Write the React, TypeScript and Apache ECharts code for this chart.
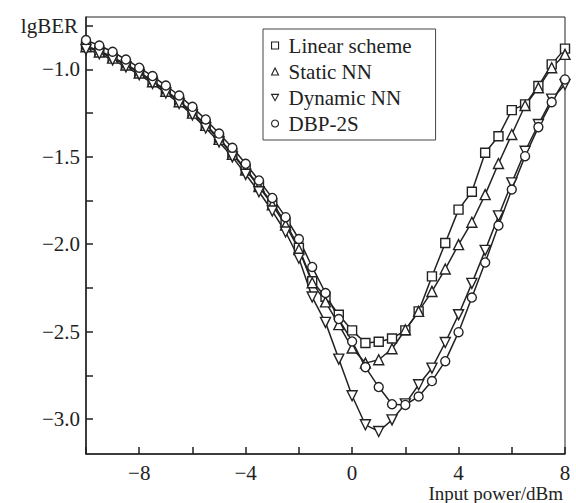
import { useEffect, useRef } from 'react';
import * as echarts from 'echarts';

const xValues = [
  -10, -9.5, -9, -8.5, -8, -7.5, -7, -6.5, -6, -5.5, -5, -4.5, -4, -3.5, -3, -2.5, -2, -1.5, -1,
  -0.5, 0, 0.5, 1, 1.5, 2, 2.5, 3, 3.5, 4, 4.5, 5, 5.5, 6, 6.5, 7, 7.5, 8,
];

const linearScheme = [
  -0.866, -0.893, -0.93, -0.97, -1.015, -1.065, -1.12, -1.18, -1.245, -1.315, -1.395, -1.48, -1.57,
  -1.665, -1.765, -1.875, -2.02, -2.212, -2.3, -2.403, -2.493, -2.565, -2.558, -2.539, -2.493, -2.384,
  -2.184, -1.993, -1.802, -1.7, -1.477, -1.382, -1.233, -1.2, -1.095, -0.971, -0.881,
];

const staticNN = [
  -0.87, -0.9, -0.935, -0.975, -1.02, -1.07, -1.125, -1.185, -1.25, -1.32, -1.4, -1.485, -1.575,
  -1.67, -1.775, -1.89, -2.03, -2.22, -2.33, -2.46, -2.594, -2.68, -2.661, -2.598, -2.489, -2.384,
  -2.27, -2.142, -2.002, -1.874, -1.716, -1.538, -1.372, -1.206, -1.105, -0.99, -0.914,
];

const dynamicNN = [
  -0.885, -0.91, -0.945, -0.985, -1.03, -1.08, -1.135, -1.195, -1.26, -1.335, -1.415, -1.5, -1.6,
  -1.7, -1.81, -1.93, -2.08, -2.302, -2.447, -2.657, -2.867, -3.033, -3.071, -3.005, -2.913, -2.804,
  -2.709, -2.562, -2.403, -2.224, -2.035, -1.838, -1.649, -1.468, -1.315, -1.17, -1.086,
];

const dbp2s = [
  -0.832, -0.863, -0.899, -0.943, -0.99, -1.038, -1.092, -1.149, -1.214, -1.286, -1.367, -1.448,
  -1.54, -1.635, -1.735, -1.845, -1.97, -2.13, -2.279, -2.428, -2.556, -2.703, -2.817, -2.915, -2.919,
  -2.871, -2.783, -2.669, -2.503, -2.305, -2.104, -1.893, -1.687, -1.496, -1.33, -1.187, -1.057,
];

const yTickValues = [-3, -2.75, -2.5, -2.25, -2, -1.75, -1.5, -1.25, -1, -0.75];
const yLabelValues = [-3, -2.5, -2, -1.5, -1];
const xLabelValues = [-8, -4, 0, 4, 8];

const FONT = '"Liberation Serif", "Times New Roman", serif';
const INK = '#222';
const DOWN_TRIANGLE = 'path://M0,0 L10,0 L5,9 Z';

const minus = (s: string) => s.replace('-', '\u2212');

export default function App() {
  const ref = useRef<HTMLDivElement>(null);

  useEffect(() => {
    document.body.style.margin = '0';
    if (!ref.current) return;
    const chart = echarts.init(ref.current, undefined, { renderer: 'svg' });

    const seriesDefs = [
      { name: 'Linear scheme', data: linearScheme, symbol: 'rect', size: 9 },
      { name: 'Static NN', data: staticNN, symbol: 'triangle', size: 10 },
      { name: 'Dynamic NN', data: dynamicNN, symbol: DOWN_TRIANGLE, size: 10 },
      { name: 'DBP-2S', data: dbp2s, symbol: 'circle', size: 9 },
    ];

    chart.setOption({
      animation: false,
      backgroundColor: '#fff',
      grid: {
        left: 86,
        top: 17,
        right: 11,
        bottom: 49,
        show: true,
        borderColor: INK,
        borderWidth: 1,
        containLabel: false,
      },
      legend: {
        orient: 'vertical',
        left: 263,
        top: 29,
        itemWidth: 7,
        itemHeight: 7,
        itemGap: 5,
        padding: [6, 24, 6, 8],
        borderColor: '#444',
        borderWidth: 1,
        textStyle: {
          fontFamily: FONT,
          fontSize: 21,
          color: INK,
          lineHeight: 20,
          padding: [0, 0, 0, 5],
        },
        data: seriesDefs.map((s) => ({
          name: s.name,
          icon: s.symbol,
          itemStyle: { color: '#fff', borderColor: INK, borderWidth: 1.1 },
        })),
      },
      xAxis: {
        type: 'value',
        min: -10,
        max: 8,
        interval: 2,
        axisLine: { show: true, onZero: false, lineStyle: { color: INK, width: 1.5 } },
        axisTick: { show: true, inside: true, length: 7, lineStyle: { color: INK, width: 1.5 } },
        axisLabel: {
          margin: 8,
          fontFamily: FONT,
          fontSize: 21,
          color: INK,
          formatter: (v: number) => (xLabelValues.includes(v) ? minus(String(v)) : ''),
        },
        splitLine: { show: false },
      },
      yAxis: {
        type: 'value',
        min: -3.2,
        max: -0.7,
        name: 'lgBER',
        nameLocation: 'end',
        nameGap: -9,
        nameTextStyle: {
          fontFamily: FONT,
          fontSize: 21,
          color: INK,
          align: 'right',
          verticalAlign: 'middle',
          padding: [0, 8, 0, 0],
        },
        axisLine: { show: true, onZero: false, lineStyle: { color: INK, width: 1.5 } },
        axisTick: {
          show: true,
          inside: true,
          length: 7,
          customValues: yTickValues,
          lineStyle: { color: INK, width: 1.5 },
        },
        axisLabel: {
          margin: 6,
          fontFamily: FONT,
          fontSize: 21,
          color: INK,
          customValues: yLabelValues,
          formatter: (v: number) => minus(v.toFixed(1)),
        },
        splitLine: { show: false },
      },
      graphic: [
        {
          type: 'text',
          right: 13,
          top: 484,
          style: {
            text: 'Input power/dBm',
            font: `19px ${FONT}`,
            fill: INK,
          },
        },
      ],
      series: seriesDefs.map((s) => ({
        name: s.name,
        type: 'line',
        data: xValues.map((x, i) => [x, s.data[i]]),
        symbol: s.symbol,
        symbolSize: s.size,
        showAllSymbol: true,
        lineStyle: { color: INK, width: 1.5 },
        itemStyle: { color: '#fff', borderColor: INK, borderWidth: 1.4 },
        emphasis: { disabled: true },
      })),
    });

    return () => chart.dispose();
  }, []);

  return <div ref={ref} style={{ width: 576, height: 503 }} />;
}
